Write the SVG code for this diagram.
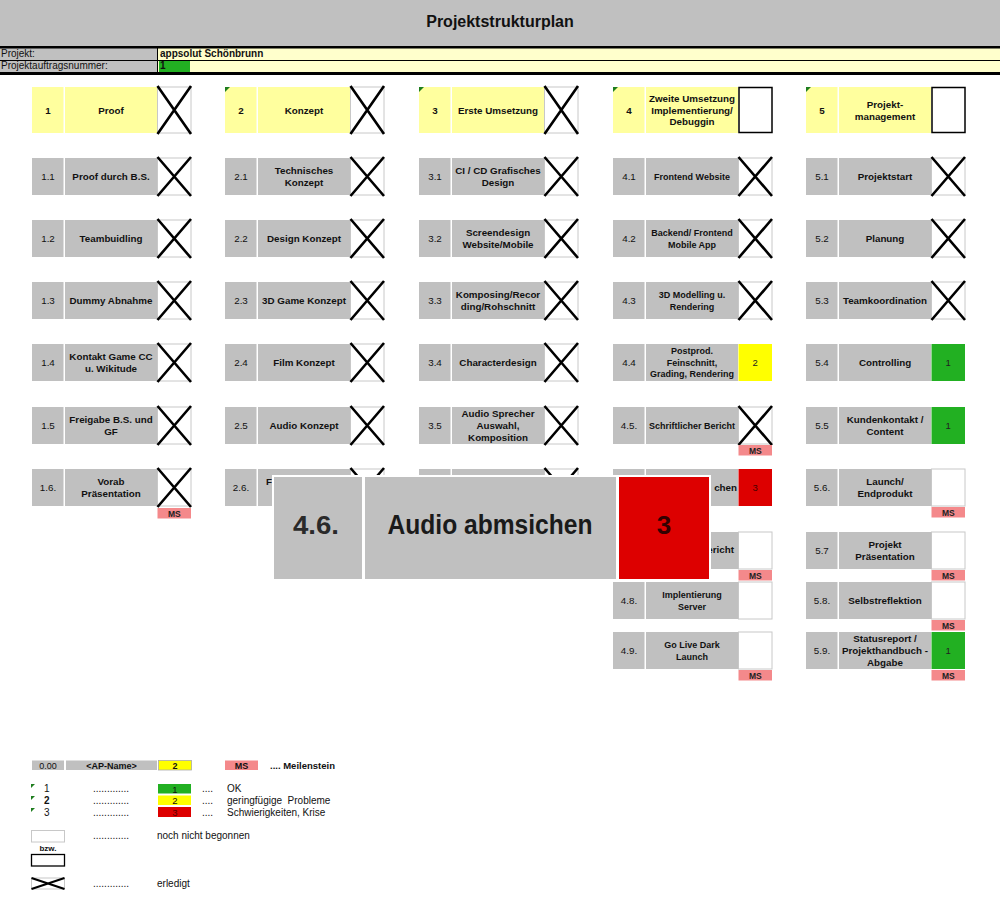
<svg xmlns="http://www.w3.org/2000/svg" width="1000" height="900" viewBox="0 0 1000 900">
<style>
text{font-family:"Liberation Sans",Arial,sans-serif;fill:#111}
.t{font-size:9.8px;text-anchor:middle}
.b{font-weight:bold}
.c{fill:#c0c0c0}
.yl{fill:#ffff9e}
.st{fill:#fff;stroke:#c8c8c8;stroke-width:1}
.stb{fill:#fff;stroke:#000;stroke-width:1.5}
.x{stroke:#000;stroke-width:2.6;fill:none}
.ms{fill:#f4898b}
.mt{font-size:8.5px;font-weight:bold;text-anchor:middle;fill:#222}
.gr{fill:#22b022}
.ye{fill:#ffff00}
.rd{fill:#dd0000}
.sn{font-size:9.5px;text-anchor:middle;fill:#222}
.tri{fill:#1e7d1e}
.lg{font-size:10px}
.cd{font-size:9.8px;text-anchor:middle;font-weight:bold}
</style>

<g id="header">
<rect x="0" y="0" width="1000" height="46" fill="#c0c0c0"/>
<text x="500" y="27" font-size="16" font-weight="bold" text-anchor="middle">Projektstrukturplan</text>
<rect x="0" y="48" width="158" height="24" fill="#c0c0c0"/>
<rect x="158" y="48" width="842" height="24" fill="#ffffcc"/>
<rect x="159" y="61" width="31" height="11" fill="#22b022"/>
<rect x="0" y="46" width="1000" height="2.5" fill="#000"/>
<rect x="0" y="60" width="1000" height="1" fill="#000"/>
<rect x="0" y="72" width="1000" height="3" fill="#000"/>
<rect x="157" y="48" width="1" height="24" fill="#000"/>
<text x="1" y="57" font-size="10">Projekt:</text>
<text x="1" y="69" font-size="10">Projektauftragsnummer:</text>
<text x="160" y="57" font-size="10" font-weight="bold">appsolut Schönbrunn</text>
<text x="160" y="69" font-size="10" font-weight="bold">1</text>
</g>

<g id="connectors"></g>

<!-- Top level -->
<g id="n1">
<rect class="yl" x="32" y="87" width="31.5" height="46"/>
<rect class="yl" x="65" y="87" width="92" height="46"/>
<rect class="st" x="157.5" y="87" width="33.5" height="46"/>
<path class="x" d="M157.5 86 L191 134 M191 86 L157.5 134"/>
<text class="t b" x="48" y="114">1</text>
<text class="t b" x="111" y="114">Proof</text>
</g>
<g id="n2">
<rect class="yl" x="225" y="87" width="31.5" height="46"/>
<rect class="yl" x="258" y="87" width="92" height="46"/>
<path class="tri" d="M225 87 h5 L225 92 Z"/>
<rect class="st" x="350.5" y="87" width="33.5" height="46"/>
<path class="x" d="M350.5 86 L384 134 M384 86 L350.5 134"/>
<text class="t b" x="241" y="114">2</text>
<text class="t b" x="304" y="114">Konzept</text>
</g>
<g id="n3">
<rect class="yl" x="419" y="87" width="31.5" height="46"/>
<rect class="yl" x="452" y="87" width="92" height="46"/>
<path class="tri" d="M419 87 h5 L419 92 Z"/>
<rect class="st" x="544.5" y="87" width="33.5" height="46"/>
<path class="x" d="M544.5 86 L578 134 M578 86 L544.5 134"/>
<text class="t b" x="435" y="114">3</text>
<text class="t b" x="498" y="114">Erste Umsetzung</text>
</g>
<g id="n4">
<rect class="yl" x="613" y="87" width="31.5" height="46"/>
<rect class="yl" x="646" y="87" width="92" height="46"/>
<path class="tri" d="M613 87 h5 L613 92 Z"/>
<rect class="stb" x="739" y="87.5" width="33" height="45"/>
<text class="t b" x="629" y="114">4</text>
<text class="t b" x="692" y="102">Zweite Umsetzung</text>
<text class="t b" x="692" y="113.5">Implementierung/</text>
<text class="t b" x="692" y="125">Debuggin</text>
</g>
<g id="n5">
<rect class="yl" x="806" y="87" width="31.5" height="46"/>
<rect class="yl" x="839" y="87" width="92" height="46"/>
<path class="tri" d="M806 87 h5 L806 92 Z"/>
<rect class="stb" x="932" y="87.5" width="33" height="45"/>
<text class="t b" x="822" y="114">5</text>
<text class="t b" x="885" y="108">Projekt-</text>
<text class="t b" x="885" y="120">management</text>
</g>

<!-- Column 1 -->
<g id="n1-1">
<rect class="c" x="32" y="158" width="31.5" height="37"/><rect class="c" x="65" y="158" width="92" height="37"/>
<rect class="st" x="157.5" y="158" width="33.5" height="37"/><path class="x" d="M157.5 157 L191 196 M191 157 L157.5 196"/>
<text class="t" x="48" y="180">1.1</text><text class="t b" x="111" y="180">Proof durch B.S.</text>
</g>
<g id="n1-2">
<rect class="c" x="32" y="220" width="31.5" height="37"/><rect class="c" x="65" y="220" width="92" height="37"/>
<rect class="st" x="157.5" y="220" width="33.5" height="37"/><path class="x" d="M157.5 219 L191 258 M191 219 L157.5 258"/>
<text class="t" x="48" y="242">1.2</text><text class="t b" x="111" y="242">Teambuidling</text>
</g>
<g id="n1-3">
<rect class="c" x="32" y="282" width="31.5" height="37"/><rect class="c" x="65" y="282" width="92" height="37"/>
<rect class="st" x="157.5" y="282" width="33.5" height="37"/><path class="x" d="M157.5 281 L191 320 M191 281 L157.5 320"/>
<text class="t" x="48" y="304">1.3</text><text class="t b" x="111" y="304">Dummy Abnahme</text>
</g>
<g id="n1-4">
<rect class="c" x="32" y="344" width="31.5" height="37"/><rect class="c" x="65" y="344" width="92" height="37"/>
<rect class="st" x="157.5" y="344" width="33.5" height="37"/><path class="x" d="M157.5 343 L191 382 M191 343 L157.5 382"/>
<text class="t" x="48" y="366">1.4</text><text class="t b" x="111" y="360">Kontakt Game CC</text><text class="t b" x="111" y="372">u. Wikitude</text>
</g>
<g id="n1-5">
<rect class="c" x="32" y="407" width="31.5" height="37"/><rect class="c" x="65" y="407" width="92" height="37"/>
<rect class="st" x="157.5" y="407" width="33.5" height="37"/><path class="x" d="M157.5 406 L191 445 M191 406 L157.5 445"/>
<text class="t" x="48" y="429">1.5</text><text class="t b" x="111" y="423">Freigabe B.S. und</text><text class="t b" x="111" y="435">GF</text>
</g>
<g id="n1-6">
<rect class="c" x="32" y="469" width="31.5" height="37"/><rect class="c" x="65" y="469" width="92" height="37"/>
<rect class="st" x="157.5" y="469" width="33.5" height="37"/><path class="x" d="M157.5 468 L191 507 M191 468 L157.5 507"/>
<text class="t" x="48" y="491">1.6.</text><text class="t b" x="111" y="485">Vorab</text><text class="t b" x="111" y="497">Präsentation</text>
<rect class="ms" x="157.5" y="508" width="33.5" height="10.5"/><text class="mt" x="174.25" y="516.5">MS</text>
</g>

<!-- Column 2 -->
<g id="n2-1">
<rect class="c" x="225" y="158" width="31.5" height="37"/><rect class="c" x="258" y="158" width="92" height="37"/>
<rect class="st" x="350.5" y="158" width="33.5" height="37"/><path class="x" d="M350.5 157 L384 196 M384 157 L350.5 196"/>
<text class="t" x="241" y="180">2.1</text><text class="t b" x="304" y="174">Technisches</text><text class="t b" x="304" y="186">Konzept</text>
</g>
<g id="n2-2">
<rect class="c" x="225" y="220" width="31.5" height="37"/><rect class="c" x="258" y="220" width="92" height="37"/>
<rect class="st" x="350.5" y="220" width="33.5" height="37"/><path class="x" d="M350.5 219 L384 258 M384 219 L350.5 258"/>
<text class="t" x="241" y="242">2.2</text><text class="t b" x="304" y="242">Design Konzept</text>
</g>
<g id="n2-3">
<rect class="c" x="225" y="282" width="31.5" height="37"/><rect class="c" x="258" y="282" width="92" height="37"/>
<rect class="st" x="350.5" y="282" width="33.5" height="37"/><path class="x" d="M350.5 281 L384 320 M384 281 L350.5 320"/>
<text class="t" x="241" y="304">2.3</text><text class="t b" x="304" y="304">3D Game Konzept</text>
</g>
<g id="n2-4">
<rect class="c" x="225" y="344" width="31.5" height="37"/><rect class="c" x="258" y="344" width="92" height="37"/>
<rect class="st" x="350.5" y="344" width="33.5" height="37"/><path class="x" d="M350.5 343 L384 382 M384 343 L350.5 382"/>
<text class="t" x="241" y="366">2.4</text><text class="t b" x="304" y="366">Film Konzept</text>
</g>
<g id="n2-5">
<rect class="c" x="225" y="407" width="31.5" height="37"/><rect class="c" x="258" y="407" width="92" height="37"/>
<rect class="st" x="350.5" y="407" width="33.5" height="37"/><path class="x" d="M350.5 406 L384 445 M384 406 L350.5 445"/>
<text class="t" x="241" y="429">2.5</text><text class="t b" x="304" y="429">Audio Konzept</text>
</g>
<g id="n2-6">
<rect class="c" x="225" y="469" width="31.5" height="37"/><rect class="c" x="258" y="469" width="92" height="37"/>
<rect class="st" x="350.5" y="469" width="33.5" height="37"/><path class="x" d="M350.5 468 L384 507 M384 468 L350.5 507"/>
<text class="t" x="241" y="491">2.6.</text><text class="b" x="266" y="485" font-size="9.8">F</text>
</g>

<!-- Column 3 -->
<g id="n3-1">
<rect class="c" x="419" y="158" width="31.5" height="37"/><rect class="c" x="452" y="158" width="92" height="37"/>
<rect class="st" x="544.5" y="158" width="33.5" height="37"/><path class="x" d="M544.5 157 L578 196 M578 157 L544.5 196"/>
<text class="t" x="435" y="180">3.1</text><text class="t b" x="498" y="174">CI / CD Grafisches</text><text class="t b" x="498" y="186">Design</text>
</g>
<g id="n3-2">
<rect class="c" x="419" y="220" width="31.5" height="37"/><rect class="c" x="452" y="220" width="92" height="37"/>
<rect class="st" x="544.5" y="220" width="33.5" height="37"/><path class="x" d="M544.5 219 L578 258 M578 219 L544.5 258"/>
<text class="t" x="435" y="242">3.2</text><text class="t b" x="498" y="236">Screendesign</text><text class="t b" x="498" y="248">Website/Mobile</text>
</g>
<g id="n3-3">
<rect class="c" x="419" y="282" width="31.5" height="37"/><rect class="c" x="452" y="282" width="92" height="37"/>
<rect class="st" x="544.5" y="282" width="33.5" height="37"/><path class="x" d="M544.5 281 L578 320 M578 281 L544.5 320"/>
<text class="t" x="435" y="304">3.3</text><text class="t b" x="498" y="298">Komposing/Recor</text><text class="t b" x="498" y="310">ding/Rohschnitt</text>
</g>
<g id="n3-4">
<rect class="c" x="419" y="344" width="31.5" height="37"/><rect class="c" x="452" y="344" width="92" height="37"/>
<rect class="st" x="544.5" y="344" width="33.5" height="37"/><path class="x" d="M544.5 343 L578 382 M578 343 L544.5 382"/>
<text class="t" x="435" y="366">3.4</text><text class="t b" x="498" y="366">Characterdesign</text>
</g>
<g id="n3-5">
<rect class="c" x="419" y="407" width="31.5" height="37"/><rect class="c" x="452" y="407" width="92" height="37"/>
<rect class="st" x="544.5" y="407" width="33.5" height="37"/><path class="x" d="M544.5 406 L578 445 M578 406 L544.5 445"/>
<text class="t" x="435" y="429">3.5</text><text class="t b" x="498" y="417">Audio Sprecher</text><text class="t b" x="498" y="429">Auswahl,</text><text class="t b" x="498" y="441">Komposition</text>
</g>
<g id="n3-6">
<rect class="c" x="419" y="469" width="31.5" height="37"/><rect class="c" x="452" y="469" width="92" height="37"/>
<rect class="st" x="544.5" y="469" width="33.5" height="37"/><path class="x" d="M544.5 468 L578 507 M578 468 L544.5 507"/>
</g>

<!-- Column 4 -->
<g id="n4-1">
<rect class="c" x="613" y="158" width="31.5" height="37"/><rect class="c" x="646" y="158" width="92" height="37"/>
<rect class="st" x="738.5" y="158" width="33.5" height="37"/><path class="x" d="M738.5 157 L772 196 M772 157 L738.5 196"/>
<text class="t" x="629" y="180">4.1</text><text class="cd" transform="translate(692 0) scale(.92 1)" x="0" y="180">Frontend Website</text>
</g>
<g id="n4-2">
<rect class="c" x="613" y="220" width="31.5" height="37"/><rect class="c" x="646" y="220" width="92" height="37"/>
<rect class="st" x="738.5" y="220" width="33.5" height="37"/><path class="x" d="M738.5 219 L772 258 M772 219 L738.5 258"/>
<text class="t" x="629" y="242">4.2</text><text class="cd" transform="translate(692 0) scale(.92 1)" x="0" y="236">Backend/ Frontend</text><text class="cd" transform="translate(692 0) scale(.92 1)" x="0" y="248">Mobile App</text>
</g>
<g id="n4-3">
<rect class="c" x="613" y="282" width="31.5" height="37"/><rect class="c" x="646" y="282" width="92" height="37"/>
<rect class="st" x="738.5" y="282" width="33.5" height="37"/><path class="x" d="M738.5 281 L772 320 M772 281 L738.5 320"/>
<text class="t" x="629" y="304">4.3</text><text class="cd" transform="translate(692 0) scale(.92 1)" x="0" y="298">3D Modelling u.</text><text class="cd" transform="translate(692 0) scale(.92 1)" x="0" y="310">Rendering</text>
</g>
<g id="n4-4">
<rect class="c" x="613" y="344" width="31.5" height="37"/><rect class="c" x="646" y="344" width="92" height="37"/>
<rect class="ye" x="738.5" y="344" width="33.5" height="37"/>
<text class="t" x="629" y="366">4.4</text>
<text class="cd" transform="translate(692 0) scale(.92 1)" x="0" y="354">Postprod.</text><text class="cd" transform="translate(692 0) scale(.92 1)" x="0" y="366">Feinschnitt,</text><text class="cd" transform="translate(692 0) scale(.92 1)" x="0" y="377.5">Grading, Rendering</text>
<text class="sn" x="755.25" y="366">2</text>
</g>
<g id="n4-5">
<rect class="c" x="613" y="407" width="31.5" height="37"/><rect class="c" x="646" y="407" width="92" height="37"/>
<rect class="st" x="738.5" y="407" width="33.5" height="37"/><path class="x" d="M738.5 406 L772 445 M772 406 L738.5 445"/>
<text class="t" x="629" y="429">4.5.</text><text class="cd" transform="translate(692 0) scale(.92 1)" x="0" y="429">Schriftlicher Bericht</text>
<rect class="ms" x="738.5" y="445" width="33.5" height="10.5"/><text class="mt" x="755.25" y="453.5">MS</text>
</g>
<g id="n4-6">
<rect class="c" x="613" y="469" width="31.5" height="37"/><rect class="c" x="646" y="469" width="92" height="37"/>
<rect class="rd" x="738.5" y="469" width="33.5" height="37"/>
<text class="b" font-size="9.8" text-anchor="end" x="737" y="491">chen</text>
<text class="sn" x="755.25" y="491" style="fill:#400">3</text>
</g>
<g id="n4-7">
<rect class="c" x="613" y="532" width="31.5" height="37"/><rect class="c" x="646" y="532" width="92" height="37"/>
<rect class="st" x="738.5" y="532" width="33.5" height="37"/>
<text class="b" font-size="9.8" text-anchor="end" x="734" y="553">ericht</text>
<rect class="ms" x="738.5" y="570" width="33.5" height="10.5"/><text class="mt" x="755.25" y="578.5">MS</text>
</g>
<g id="n4-8">
<rect class="c" x="613" y="582" width="31.5" height="37"/><rect class="c" x="646" y="582" width="92" height="37"/>
<rect class="st" x="738.5" y="582" width="33.5" height="37"/>
<text class="t" x="629" y="604">4.8.</text><text class="cd" transform="translate(692 0) scale(.92 1)" x="0" y="598">Implentierung</text><text class="cd" transform="translate(692 0) scale(.92 1)" x="0" y="610">Server</text>
</g>
<g id="n4-9">
<rect class="c" x="613" y="632" width="31.5" height="37"/><rect class="c" x="646" y="632" width="92" height="37"/>
<rect class="st" x="738.5" y="632" width="33.5" height="37"/>
<text class="t" x="629" y="654">4.9.</text><text class="cd" transform="translate(692 0) scale(.92 1)" x="0" y="648">Go Live Dark</text><text class="cd" transform="translate(692 0) scale(.92 1)" x="0" y="660">Launch</text>
<rect class="ms" x="738.5" y="670" width="33.5" height="10.5"/><text class="mt" x="755.25" y="678.5">MS</text>
</g>

<!-- Column 5 -->
<g id="n5-1">
<rect class="c" x="806" y="158" width="31.5" height="37"/><rect class="c" x="839" y="158" width="92" height="37"/>
<rect class="st" x="931.5" y="158" width="33.5" height="37"/><path class="x" d="M931.5 157 L965 196 M965 157 L931.5 196"/>
<text class="t" x="822" y="180">5.1</text><text class="t b" x="885" y="180">Projektstart</text>
</g>
<g id="n5-2">
<rect class="c" x="806" y="220" width="31.5" height="37"/><rect class="c" x="839" y="220" width="92" height="37"/>
<rect class="st" x="931.5" y="220" width="33.5" height="37"/><path class="x" d="M931.5 219 L965 258 M965 219 L931.5 258"/>
<text class="t" x="822" y="242">5.2</text><text class="t b" x="885" y="242">Planung</text>
</g>
<g id="n5-3">
<rect class="c" x="806" y="282" width="31.5" height="37"/><rect class="c" x="839" y="282" width="92" height="37"/>
<rect class="st" x="931.5" y="282" width="33.5" height="37"/><path class="x" d="M931.5 281 L965 320 M965 281 L931.5 320"/>
<text class="t" x="822" y="304">5.3</text><text class="t b" x="885" y="304">Teamkoordination</text>
</g>
<g id="n5-4">
<rect class="c" x="806" y="344" width="31.5" height="37"/><rect class="c" x="839" y="344" width="92" height="37"/>
<rect class="gr" x="931.5" y="344" width="33.5" height="37"/>
<text class="t" x="822" y="366">5.4</text><text class="t b" x="885" y="366">Controlling</text>
<text class="sn" x="948.25" y="366">1</text>
</g>
<g id="n5-5">
<rect class="c" x="806" y="407" width="31.5" height="37"/><rect class="c" x="839" y="407" width="92" height="37"/>
<rect class="gr" x="931.5" y="407" width="33.5" height="37"/>
<text class="t" x="822" y="429">5.5</text><text class="t b" x="885" y="423">Kundenkontakt /</text><text class="t b" x="885" y="435">Content</text>
<text class="sn" x="948.25" y="429">1</text>
</g>
<g id="n5-6">
<rect class="c" x="806" y="469" width="31.5" height="37"/><rect class="c" x="839" y="469" width="92" height="37"/>
<rect class="st" x="931.5" y="469" width="33.5" height="37"/>
<text class="t" x="822" y="491">5.6.</text><text class="t b" x="885" y="485">Launch/</text><text class="t b" x="885" y="497">Endprodukt</text>
<rect class="ms" x="931.5" y="507" width="33.5" height="10.5"/><text class="mt" x="948.25" y="515.5">MS</text>
</g>
<g id="n5-7">
<rect class="c" x="806" y="532" width="31.5" height="37"/><rect class="c" x="839" y="532" width="92" height="37"/>
<rect class="st" x="931.5" y="532" width="33.5" height="37"/>
<text class="t" x="822" y="554">5.7</text><text class="t b" x="885" y="548">Projekt</text><text class="t b" x="885" y="560">Präsentation</text>
<rect class="ms" x="931.5" y="570" width="33.5" height="10.5"/><text class="mt" x="948.25" y="578.5">MS</text>
</g>
<g id="n5-8">
<rect class="c" x="806" y="582" width="31.5" height="37"/><rect class="c" x="839" y="582" width="92" height="37"/>
<rect class="st" x="931.5" y="582" width="33.5" height="37"/>
<text class="t" x="822" y="604">5.8.</text><text class="t b" x="885" y="604">Selbstreflektion</text>
<rect class="ms" x="931.5" y="620" width="33.5" height="10.5"/><text class="mt" x="948.25" y="628.5">MS</text>
</g>
<g id="n5-9">
<rect class="c" x="806" y="632" width="31.5" height="37"/><rect class="c" x="839" y="632" width="92" height="37"/>
<rect class="gr" x="931.5" y="632" width="33.5" height="37"/>
<text class="t" x="822" y="654">5.9.</text><text class="t b" x="885" y="641.5">Statusreport /</text><text class="t b" x="885" y="653.5">Projekthandbuch -</text><text class="t b" x="885" y="665.5">Abgabe</text>
<text class="sn" x="948.25" y="654">1</text>
<rect class="ms" x="931.5" y="670" width="33.5" height="10.5"/><text class="mt" x="948.25" y="678.5">MS</text>
</g>

<!-- Magnified overlay of 4.6 -->
<g id="zoom-4-6">
<rect x="272" y="475" width="439" height="106" fill="#fff"/>
<rect x="274" y="477" width="88" height="102" fill="#c0c0c0"/>
<rect x="365" y="477" width="251" height="102" fill="#c0c0c0"/>
<rect x="619" y="477" width="90" height="102" fill="#dd0000"/>
<text x="316" y="534" font-size="26" font-weight="bold" text-anchor="middle" textLength="46" lengthAdjust="spacingAndGlyphs" style="fill:#2a2a2a">4.6.</text>
<text x="490" y="534" font-size="27" font-weight="bold" text-anchor="middle" textLength="205" lengthAdjust="spacingAndGlyphs" style="fill:#1a1a1a">Audio abmsichen</text>
<text x="664" y="534" font-size="26" font-weight="bold" text-anchor="middle" style="fill:#300">3</text>
</g>

<!-- Legend -->
<g id="legend">
<rect class="c" x="32" y="760.5" width="32" height="9.5"/>
<text x="48" y="769" font-size="9" text-anchor="middle">0.00</text>
<rect class="c" x="66" y="760.5" width="91" height="9.5"/>
<text x="111.5" y="769" font-size="9" font-weight="bold" text-anchor="middle">&lt;AP-Name&gt;</text>
<rect x="158.5" y="760.5" width="33" height="9.5" fill="#ffff00" stroke="#aaa" stroke-width="0.8"/>
<text x="175" y="769" font-size="9" font-weight="bold" text-anchor="middle">2</text>
<rect class="ms" x="225" y="760.5" width="33" height="9.5"/>
<text x="241.5" y="769" font-size="9" font-weight="bold" text-anchor="middle">MS</text>
<text x="270" y="768.5" font-size="9.5" font-weight="bold">.... Meilenstein</text>

<path class="tri" d="M31 784 h4 L31 788 Z"/>
<path class="tri" d="M31 796 h4 L31 800 Z"/>
<path class="tri" d="M31 808 h4 L31 812 Z"/>
<text class="lg" x="44" y="792">1</text>
<text class="lg" x="44" y="804" font-weight="bold">2</text>
<text class="lg" x="44" y="816">3</text>
<text class="lg" x="93" y="792">.............</text>
<text class="lg" x="93" y="804">.............</text>
<text class="lg" x="93" y="816">.............</text>
<rect class="gr" x="158" y="784" width="33" height="9.5"/>
<rect class="ye" x="158" y="795.5" width="33" height="9.5"/>
<rect class="rd" x="158" y="807" width="33" height="10"/>
<text x="175" y="792.5" font-size="9.5" text-anchor="middle">1</text>
<text x="175" y="804" font-size="9.5" text-anchor="middle">2</text>
<text x="175" y="816" font-size="9.5" text-anchor="middle" style="fill:#500">3</text>
<text class="lg" x="202" y="792">....</text>
<text class="lg" x="202" y="804">....</text>
<text class="lg" x="202" y="816">....</text>
<text class="lg" x="227" y="792">OK</text>
<text class="lg" x="227" y="804" xml:space="preserve">geringfügige  Probleme</text>
<text class="lg" x="227" y="816">Schwierigkeiten, Krise</text>

<rect x="31.5" y="830.5" width="33" height="11.5" fill="#fff" stroke="#c8c8c8"/>
<text class="lg" x="93" y="839">.............</text>
<text class="lg" x="157" y="839">noch nicht begonnen</text>
<text x="48" y="850.5" font-size="8" font-weight="bold" text-anchor="middle">bzw.</text>
<rect x="31.5" y="854.5" width="33" height="11.5" fill="#fff" stroke="#000" stroke-width="1.3"/>
<rect x="31.5" y="878" width="33" height="11" fill="#fff" stroke="#c8c8c8"/>
<path class="x" d="M31.5 878 L64.5 889 M64.5 878 L31.5 889" style="stroke-width:2.2"/>
<text class="lg" x="93" y="887">.............</text>
<text class="lg" x="157" y="887">erledigt</text>
</g>
</svg>
